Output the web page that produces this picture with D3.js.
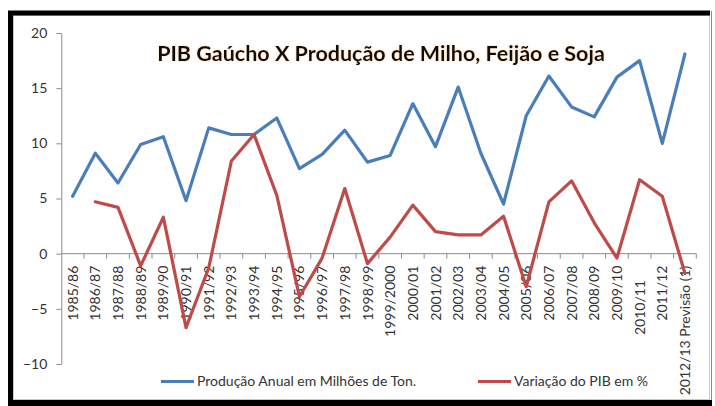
<!DOCTYPE html>
<html>
<head>
<meta charset="utf-8">
<script src="https://cdn.jsdelivr.net/npm/d3@7/dist/d3.min.js"></script>
<style>
	body { margin: 0; background: #fff; }
	text { font-family: Lato, 'Open Sans', sans-serif; }
</style>
</head>
<body>
<div id="chart"></div>
<script>
'use strict';

var categories = ['1985/86', '1986/87', '1987/88', '1988/89', '1989/90', '1990/91', '1991/92',
	'1992/93', '1993/94', '1994/95', '1995/96', '1996/97', '1997/98', '1998/99', '1999/2000',
	'2000/01', '2001/02', '2002/03', '2003/04', '2004/05', '2005/06', '2006/07', '2007/08',
	'2008/09', '2009/10', '2010/11\u00a0\u00a0\u00a0\u00a0', '2011/12', '2012/13 Previsão (1)'];

// Produção Anual em Milhões de Ton.
var producao = [5.2, 9.1, 6.4, 9.9, 10.6, 4.8, 11.4, 10.8, 10.8, 12.3, 7.7, 9.0, 11.2, 8.3,
	8.9, 13.6, 9.7, 15.1, 9.1, 4.5, 12.5, 16.1, 13.3, 12.4, 16.0, 17.5, 10.0, 18.1];

// Variação do PIB em % (no value for 1985/86)
var pib = [null, 4.7, 4.2, -1.1, 3.3, -6.7, -1.3, 8.4, 10.8, 5.3, -3.9, -0.4, 5.9, -0.9,
	1.5, 4.4, 2.0, 1.7, 1.7, 3.4, -3.0, 4.7, 6.6, 2.8, -0.4, 6.7, 5.2, -1.8];

var yTicks = [-10, -5, 0, 5, 10, 15, 20];

var series = [
	{name: 'Produção Anual em Milhões de Ton.', values: producao, color: '#4a7ebb'},
	{name: 'Variação do PIB em %', values: pib, color: '#be4b48'}
];

var width = 715, height = 406;
var plot = {left: 61.3, right: 696.3, top: 33, bottom: 364};

var svg = d3.select('#chart').append('svg')
	.attr('width', width)
	.attr('height', height);

// soft glow behind the title
var defs = svg.append('defs');
var glow = defs.append('filter').attr('id', 'glow')
	.attr('x', '-10%').attr('y', '-30%').attr('width', '120%').attr('height', '160%');
glow.append('feFlood').attr('flood-color', '#f2a04a').attr('flood-opacity', 0.45);
glow.append('feComposite').attr('in2', 'SourceAlpha').attr('operator', 'in');
glow.append('feGaussianBlur').attr('stdDeviation', 0.8).attr('result', 'halo');
var merge = glow.append('feMerge');
merge.append('feMergeNode').attr('in', 'halo');
merge.append('feMergeNode').attr('in', 'SourceGraphic');

// frame
svg.append('rect')
	.attr('x', 13.5).attr('y', 15.5)
	.attr('width', 696).attr('height', 384)
	.attr('fill', 'none')
	.attr('stroke', '#c8c8c8');
svg.append('path')
	.attr('d', 'M 10.5 406 V 13 H 710')
	.attr('fill', 'none')
	.attr('stroke', '#000')
	.attr('stroke-width', 5);
svg.append('line')
	.attr('x1', 8).attr('x2', 712)
	.attr('y1', 403).attr('y2', 403)
	.attr('stroke', '#000')
	.attr('stroke-width', 6);
svg.append('line')
	.attr('x1', 711.5).attr('x2', 711.5)
	.attr('y1', 11).attr('y2', 400)
	.attr('stroke', '#8a8a8a');

var x = d3.scaleBand()
	.domain(categories)
	.range([plot.left, plot.right]);

var y = d3.scaleLinear()
	.domain([-10, 20])
	.range([plot.bottom, plot.top]);

var axisColor = '#8c8c8c', textColor = '#333';

// y axis
var yAxis = svg.append('g')
	.attr('transform', 'translate(' + plot.left + ',0)')
	.call(d3.axisLeft(y).tickValues(yTicks).tickSize(5).tickPadding(9).tickSizeOuter(0));
yAxis.select('.domain').attr('stroke', axisColor);
yAxis.selectAll('.tick line').attr('stroke', axisColor);
yAxis.selectAll('.tick text')
	.attr('fill', textColor)
	.style('font-size', '14px');

// x axis at zero, ticks between categories
var xAxisG = svg.append('g')
	.attr('transform', 'translate(0,' + y(0) + ')');
xAxisG.append('line')
	.attr('x1', plot.left).attr('x2', plot.right)
	.attr('stroke', axisColor);
xAxisG.selectAll('line.tick')
	.data(categories)
	.enter().append('line')
	.attr('class', 'tick')
	.attr('x1', function(d) { return x(d) + x.bandwidth(); })
	.attr('x2', function(d) { return x(d) + x.bandwidth(); })
	.attr('y1', 0).attr('y2', 5)
	.attr('stroke', axisColor);
xAxisG.selectAll('text')
	.data(categories)
	.enter().append('text')
	.attr('transform', function(d) {
		return 'translate(' + (x(d) + x.bandwidth() / 2) + ',12) rotate(-90)';
	})
	.attr('dy', '0.36em')
	.attr('text-anchor', 'end')
	.attr('fill', textColor)
	.style('font-size', '14px')
	.style('white-space', 'pre')
	.text(function(d) { return d; });

// lines
var line = d3.line()
	.defined(function(d) { return d.v !== null; })
	.x(function(d) { return x(d.c) + x.bandwidth() / 2; })
	.y(function(d) { return y(d.v); });

series.forEach(function(s) {
	var pts = categories.map(function(c, i) { return {c: c, v: s.values[i]}; });
	svg.append('path')
		.datum(pts)
		.attr('d', line)
		.attr('fill', 'none')
		.attr('stroke', s.color)
		.attr('stroke-width', 3.2)
		.attr('stroke-linejoin', 'round')
		.attr('stroke-linecap', 'round');
});

// title
svg.append('text')
	.attr('x', 381)
	.attr('y', 61)
	.attr('text-anchor', 'middle')
	.attr('filter', 'url(#glow)')
	.attr('fill', '#111')
	.style('font-size', '21.5px')
	.style('font-weight', 'bold')
	.text('PIB Gaúcho X Produção de Milho, Feijão e Soja');

// legend
var legendPos = [161, 478];
var legend = svg.selectAll('g.legend')
	.data(series)
	.enter().append('g')
	.attr('class', 'legend')
	.attr('transform', function(d, i) { return 'translate(' + legendPos[i] + ',381.5)'; });
legend.append('line')
	.attr('x1', 0).attr('x2', 33)
	.attr('stroke', function(d) { return d.color; })
	.attr('stroke-width', 3.2);
legend.append('text')
	.attr('x', 36)
	.attr('dy', '0.35em')
	.attr('fill', textColor)
	.style('font-size', '14px')
	.text(function(d) { return d.name; });
</script>
</body>
</html>
